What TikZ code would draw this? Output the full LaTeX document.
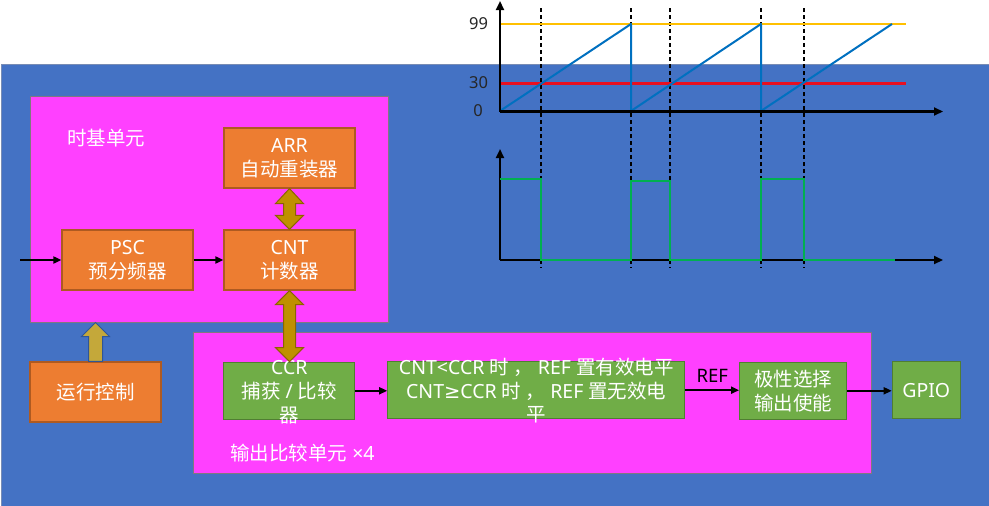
\documentclass[tikz,border=0pt]{standalone}
\usepackage{fontspec}
\setmainfont{Noto Sans}
\newfontfamily\cjk{Noto Sans CJK SC}
\newfontfamily\dv{DejaVu Sans}
\usetikzlibrary{arrows.meta,calc}
\definecolor{bgblue}{RGB}{68,114,196}
\definecolor{bgline}{RGB}{120,140,180}
\definecolor{pinkc}{RGB}{255,64,255}
\definecolor{pinkb}{RGB}{128,120,128}
\definecolor{orangec}{RGB}{237,125,49}
\definecolor{orangeb}{RGB}{174,90,33}
\definecolor{greenc}{RGB}{112,173,71}
\definecolor{greenb}{RGB}{80,126,50}
\definecolor{goldc}{RGB}{191,144,0}
\definecolor{goldb}{RGB}{140,100,0}
\definecolor{upc}{RGB}{196,168,58}
\definecolor{upb}{RGB}{47,85,151}
\definecolor{sawc}{RGB}{0,112,192}
\definecolor{maxc}{RGB}{255,192,0}
\definecolor{cmpc}{RGB}{232,16,32}
\definecolor{wavec}{RGB}{0,176,80}
\definecolor{numc}{RGB}{38,38,38}
\tikzset{
  panel/.style={draw=pinkb, fill=pinkc, line width=1pt, inner sep=0, anchor=center},
  obox/.style={draw=orangeb, fill=orangec, line width=1.2pt, inner sep=0, text=white,
    font=\fontsize{19.5}{24}\selectfont, align=center, minimum width=131pt, minimum height=60pt},
  gbox/.style={draw=greenb, fill=greenc, line width=1.2pt, inner sep=0, text=white,
    font=\fontsize{19.5}{24}\selectfont, align=center},
  txt/.style={text=white, font=\fontsize{19.5}{24}\selectfont, align=center, inner sep=0},
  conn/.style={draw=black, line width=1.8pt, -{Triangle[length=8pt,width=7pt]}},
  blockarrow/.style={fill=goldc, draw=goldb, line width=1pt, line join=miter},
  guide/.style={draw=black, line width=1.3pt, dash pattern=on 4pt off 3pt},
  axis/.style={draw=black, line width=2.2pt, -{Triangle[length=9pt,width=8pt]}},
  numlbl/.style={text=numc, font=\fontsize{16.5}{18}\selectfont, inner sep=0}
}
\begin{document}
\begin{tikzpicture}[x=1pt,y=-1pt]
\useasboundingbox (0,0) rectangle (989,506);
\fill[white] (0,0) rectangle (989,506);
% blue background
\node[draw=bgline, fill=bgblue, line width=1pt, minimum width=988pt, minimum height=442pt, inner sep=0] (bg) at (495,285) {};

% panels
\node[panel, minimum width=358pt, minimum height=226pt] (tb) at (209,209) {};
\node[panel, minimum width=678pt, minimum height=141pt] (oc) at (532,402.5) {};
\node[txt, anchor=west] (tbl) at (67,138) {\cjk 时基单元};
\node[txt, anchor=west] (ocl) at (230,453) {{\cjk 输出比较单元} ×4};

% time base boxes
\node[obox] (arr) at (289.5,158) {ARR\\{\cjk 自动重装器}};
\node[obox] (psc) at (127.5,260) {PSC\\{\cjk 预分频器}};
\node[obox] (cnt) at (289.5,260) {CNT\\{\cjk 计数器}};
\node[obox] (rc) at (95.5,392) {\cjk 运行控制};

% output compare boxes
\node[gbox, minimum width=131pt, minimum height=57pt] (ccr) at (289.3,390.8) {};
\node[txt] (ccrt) at (289.3,392) {CCR\\{\cjk 捕获} / {\cjk 比较}\\{\cjk 器}};
\node[gbox, minimum width=297pt, minimum height=57pt] (cond) at (536.3,390.2) {};
\node[txt, font=\fontsize{19.5}{23.5}\selectfont] (condt) at (536.3,391) {CNT<CCR {\cjk 时 ，} REF {\cjk 置有效电平}\\CNT{\dv ≥}CCR {\cjk 时 ，} REF {\cjk 置无效电}\\{\cjk 平}};
\node[gbox, minimum width=107pt, minimum height=57pt] (pol) at (793.2,390.8) {\cjk 极性选择\\\cjk 输出使能};
\node[gbox, minimum width=68pt, minimum height=57pt] (gpio) at (926.3,390.2) {GPIO};

% connectors
\coordinate (in) at (20,260);
\draw[conn] (in) -- (psc.west);
\draw[conn] (psc.east) -- (cnt.west);
\draw[conn] (ccr.east) -- (ccr.east -| cond.west);
\draw[conn] (cond.east) -- node[above=7pt, text=black, font=\fontsize{18.5}{20}\selectfont, inner sep=0] (refl) {REF} (cond.east -| pol.west);
\draw[conn] (pol.east) -- (pol.east -| gpio.west);

% block double arrows
\path[blockarrow] (arr.south) -- ($(arr.south)+(14,15)$) -- ($(arr.south)+(6,15)$)
  -- ($(cnt.north)+(6,-14)$) -- ($(cnt.north)+(14,-14)$) -- (cnt.north)
  -- ($(cnt.north)+(-14,-14)$) -- ($(cnt.north)+(-6,-14)$)
  -- ($(arr.south)+(-6,15)$) -- ($(arr.south)+(-14,15)$) -- cycle;
\coordinate (ccrtop) at (cnt.south |- ccr.north);
\path[blockarrow] (cnt.south) -- ($(cnt.south)+(14,14)$) -- ($(cnt.south)+(6,14)$)
  -- ($(ccrtop)+(6,-14)$) -- ($(ccrtop)+(14,-14)$) -- (ccrtop)
  -- ($(ccrtop)+(-14,-14)$) -- ($(ccrtop)+(-6,-14)$)
  -- ($(cnt.south)+(-6,14)$) -- ($(cnt.south)+(-14,14)$) -- cycle;
% run control up arrow
\coordinate (uptip) at (rc.north |- tb.south);
\path[fill=upc, draw=upb, line width=1pt] (uptip) -- ($(uptip)+(14,14)$) -- ($(uptip)+(7,14)$)
  -- ($(rc.north)+(7,0)$) -- ($(rc.north)+(-7,0)$) -- ($(uptip)+(-7,14)$)
  -- ($(uptip)+(-14,14)$) -- cycle;

% ---- chart ----
\foreach \gx/\gn in {541/g1,631/g2,670/g3,761/g4,804/g5}{
  \coordinate (\gn t) at (\gx,8);
  \coordinate (\gn b) at (\gx,268);
  \draw[guide] (\gn t) -- (\gn b);
}
\coordinate (o1) at (500,111.5);
\coordinate (y1) at (500,1);
\coordinate (x1) at (943,111.5);
\draw[maxc, line width=2pt] (500,24) -- (906,24);
\draw[cmpc, line width=2.5pt] (500,83.3) -- (906,83.3);
\draw[sawc, line width=2pt, line join=round] (500,111) -- (631,24) -- (631,111) -- (761,24) -- (761,111) -- (892,24);
\draw[axis] (o1) -- (y1);
\draw[axis] (o1) -- (x1);
\node[numlbl] (n99) at (478.5,24) {99};
\node[numlbl] (n30) at (478.5,83) {30};
\node[numlbl] (n0) at (478,111) {0};

\coordinate (o2) at (500,260);
\coordinate (y2) at (500,149);
\coordinate (x2) at (943,260);
\draw[axis] (o2) -- (y2);
\draw[axis] (o2) -- (x2);
\draw[wavec, line width=2pt] (500,179) -- (541,179) -- (541,260) -- (631,260) -- (631,180.5) -- (670,180.5) -- (670,260) -- (761,260) -- (761,178.5) -- (804,178.5) -- (804,260) -- (895,260);
\end{tikzpicture}
\end{document}
